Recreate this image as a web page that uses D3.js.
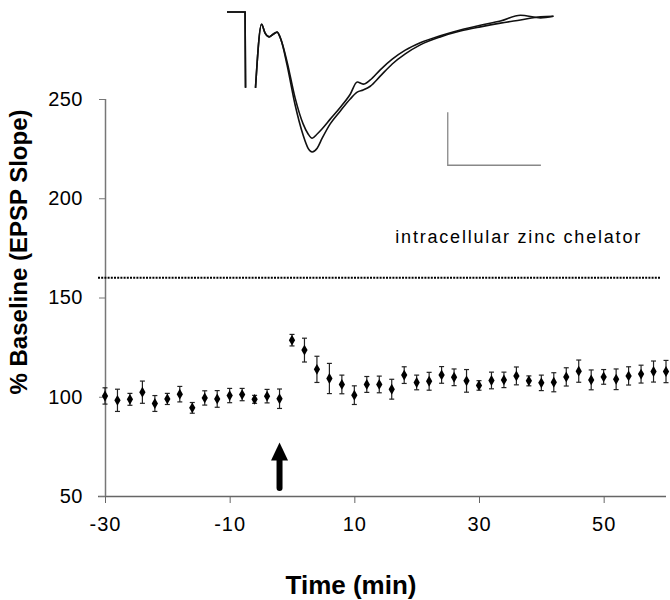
<!DOCTYPE html>
<html>
<head>
<meta charset="utf-8">
<script src="https://cdn.jsdelivr.net/npm/d3@7"></script>
<style>
  body { margin: 0; background: #fff; }
  text { font-family: "Liberation Sans", Arial, sans-serif; }
</style>
</head>
<body>
<svg width="670" height="600"></svg>
<script>
// tijdstippen (min) en EPSP slope als % van baseline
var times = [-30, -28, -26, -24, -22, -20, -18, -16, -14, -12, -10, -8, -6, -4, -2,
    0, 2, 4, 6, 8, 10, 12, 14, 16, 18, 20, 22, 24, 26, 28, 30, 32, 34, 36, 38, 40,
    42, 44, 46, 48, 50, 52, 54, 56, 58, 60];
var values = [100.4, 98.2, 98.7, 102.3, 96.6, 98.9, 101.3, 94.4, 99.4, 98.9, 100.6, 101.1, 98.7, 100.3, 99.0,
    128.5, 123.5, 113.8, 109.2, 106.2, 100.8, 106.2, 106.2, 103.8, 110.9, 107.2, 107.8, 111.0, 109.8, 108.0,
    105.7, 108.2, 108.5, 110.5, 108.0, 107.0, 107.3, 110.0, 112.9, 108.5, 110.0, 108.8, 110.5, 111.4, 112.7, 112.7];
var errors = [4.1, 5.6, 3.0, 5.6, 4.0, 2.8, 3.9, 2.7, 3.6, 4.2, 3.6, 3.1, 2.0, 3.4, 4.9,
    2.9, 6.0, 6.6, 7.6, 4.7, 4.7, 4.0, 4.2, 5.0, 4.2, 3.7, 4.5, 4.2, 4.2, 5.7,
    2.4, 4.2, 3.9, 4.5, 2.5, 3.9, 4.8, 4.6, 5.6, 5.0, 3.7, 5.2, 4.6, 4.5, 5.3, 5.6];
var xTicks = [-30, -10, 10, 30, 50];
var yTicks = [50, 100, 150, 200, 250];
var chelatorLevel = 160;
var arrowTime = -2, arrowFrom = 54, arrowTo = 77;

// inzet: twee EPSP sporen (ms, mV), null = onderbreking na stimulus artefact
var traceTime = [0, 1.94, 1.99, null, 3.06, 3.71, 4.09, 4.52, 4.95, 5.38, 5.81, 6.45, 7.31, 8.17, 8.71, 9.14, 9.68,
    10.22, 11.08, 12.15, 13.23, 13.98, 14.62, 15.38, 16.45, 17.74, 19.14, 20.75, 22.9, 25.05, 27.2, 29.35, 31.51, 33.66, 35.05];
var traceLow = [0, 0, -1.43, null, -1.43, -0.23, -0.40, -0.47, -0.42, -0.38, -0.53, -1.0, -1.75, -2.32, -2.57, -2.64, -2.57,
    -2.38, -2.11, -1.87, -1.64, -1.51, -1.47, -1.40, -1.21, -0.98, -0.79, -0.62, -0.47, -0.36, -0.28, -0.21, -0.15, -0.09, -0.08];
var traceHigh = [0, 0, -1.43, null, -1.43, -0.23, -0.40, -0.47, -0.42, -0.38, -0.53, -0.94, -1.62, -2.11, -2.30, -2.38, -2.30,
    -2.20, -2.02, -1.80, -1.55, -1.32, -1.36, -1.28, -1.09, -0.89, -0.72, -0.58, -0.45, -0.34, -0.25, -0.17, -0.06, -0.11, -0.08];
var scaleBarTime = [23.7, 33.7], scaleBarVolt = [-1.89, -2.89];

var svg = d3.select("svg"),
    margin = { top: 99, right: 4, bottom: 104, left: 105 },
    width = +svg.attr("width") - margin.left - margin.right,
    height = +svg.attr("height") - margin.top - margin.bottom;

var x = d3.scaleLinear().domain([-30, 60]).range([0, width]),
    y = d3.scaleLinear().domain([50, 250]).range([height, 0]);

var g = svg.append("g")
    .attr("transform", "translate(" + margin.left + "," + margin.top + ")");

// x as
var xAxis = g.append("g")
    .attr("transform", "translate(0," + height + ")")
    .call(d3.axisBottom(x).tickValues(xTicks).tickSize(7).tickPadding(14).tickFormat(function (d) { return String(d); }));
xAxis.select(".domain").attr("d", "M-7,0.5H" + width).attr("stroke", "#666").attr("stroke-width", 1.3);
xAxis.selectAll(".tick line").attr("stroke", "#666");
xAxis.selectAll(".tick text").attr("font-size", 20).attr("fill", "#000").style("letter-spacing", "1px");

// y as
var yAxis = g.append("g")
    .call(d3.axisLeft(y).tickValues(yTicks).tickSize(6).tickPadding(16));
yAxis.select(".domain").attr("d", "M0.5," + height + "V0").attr("stroke", "#777").attr("stroke-width", 1.5);
yAxis.selectAll(".tick line").attr("stroke", "#777");
yAxis.selectAll(".tick text").attr("font-size", 20).attr("fill", "#000").style("letter-spacing", "0.5px");

// as titels
svg.append("text")
    .attr("x", 351).attr("y", 594)
    .attr("text-anchor", "middle")
    .attr("font-size", 26).attr("font-weight", "bold")
    .text("Time (min)");
svg.append("text")
    .attr("transform", "translate(27,252) rotate(-90)")
    .attr("text-anchor", "middle")
    .attr("font-size", 24).attr("font-weight", "bold")
    .text("% Baseline (EPSP Slope)");

// gestippelde lijn voor zink chelator
g.append("line")
    .attr("x1", -7).attr("x2", width - 6)
    .attr("y1", y(chelatorLevel)).attr("y2", y(chelatorLevel))
    .attr("stroke", "#000").attr("stroke-width", 2).attr("stroke-dasharray", "2,1.2");
g.append("text")
    .attr("x", width - 24).attr("y", y(chelatorLevel) - 35)
    .attr("text-anchor", "end")
    .attr("font-size", 18).style("letter-spacing", "1.8px")
    .text("intracellular zinc chelator");

// foutbalken
var data = times.map(function (t, i) { return { t: t, v: values[i], e: errors[i] }; });
var bars = g.selectAll(".err").data(data).enter().append("g").attr("class", "err")
    .attr("stroke", "#222").attr("stroke-width", 1.2);
bars.append("line")
    .attr("x1", function (d) { return x(d.t); }).attr("x2", function (d) { return x(d.t); })
    .attr("y1", function (d) { return y(d.v - d.e); }).attr("y2", function (d) { return y(d.v + d.e); });
bars.append("line")
    .attr("x1", function (d) { return x(d.t) - 2.5; }).attr("x2", function (d) { return x(d.t) + 2.5; })
    .attr("y1", function (d) { return y(d.v + d.e); }).attr("y2", function (d) { return y(d.v + d.e); });
bars.append("line")
    .attr("x1", function (d) { return x(d.t) - 2.5; }).attr("x2", function (d) { return x(d.t) + 2.5; })
    .attr("y1", function (d) { return y(d.v - d.e); }).attr("y2", function (d) { return y(d.v - d.e); });

// punten
g.selectAll(".pt").data(data).enter().append("path")
    .attr("class", "pt")
    .attr("transform", function (d) { return "translate(" + x(d.t) + "," + y(d.v) + ")"; })
    .attr("d", d3.symbol().type(d3.symbolDiamond).size(34))
    .attr("fill", "#000");

// pijl
var ax = x(arrowTime);
g.append("line")
    .attr("x1", ax).attr("x2", ax)
    .attr("y1", y(arrowFrom)).attr("y2", y(arrowTo) + 14)
    .attr("stroke", "#000").attr("stroke-width", 6).attr("stroke-linecap", "round");
g.append("path")
    .attr("d", "M" + ax + "," + y(arrowTo) + "L" + (ax + 8.5) + "," + (y(arrowTo) + 18) + "L" + (ax - 8.5) + "," + (y(arrowTo) + 18) + "Z")
    .attr("fill", "#000");

// inzet met sporen
var tx = d3.scaleLinear().domain([0, 35]).range([227, 553]),
    ty = d3.scaleLinear().domain([0, -2.64]).range([12, 152]);
var traceLine = function (vals) {
    return d3.line()
        .defined(function (d, i) { return traceTime[i] !== null; })
        .x(function (d, i) { return tx(traceTime[i]); })
        .y(function (d) { return ty(d); })
        .curve(d3.curveMonotoneX)(vals);
};
[traceLow, traceHigh].forEach(function (vals) {
    svg.append("path")
        .attr("d", traceLine(vals))
        .attr("fill", "none").attr("stroke", "#111").attr("stroke-width", 1.6);
});
svg.append("path")
    .attr("d", "M" + tx(scaleBarTime[0]) + "," + ty(scaleBarVolt[0]) + "V" + ty(scaleBarVolt[1]) + "H" + tx(scaleBarTime[1]))
    .attr("fill", "none").attr("stroke", "#888").attr("stroke-width", 1.3);
</script>
</body>
</html>
